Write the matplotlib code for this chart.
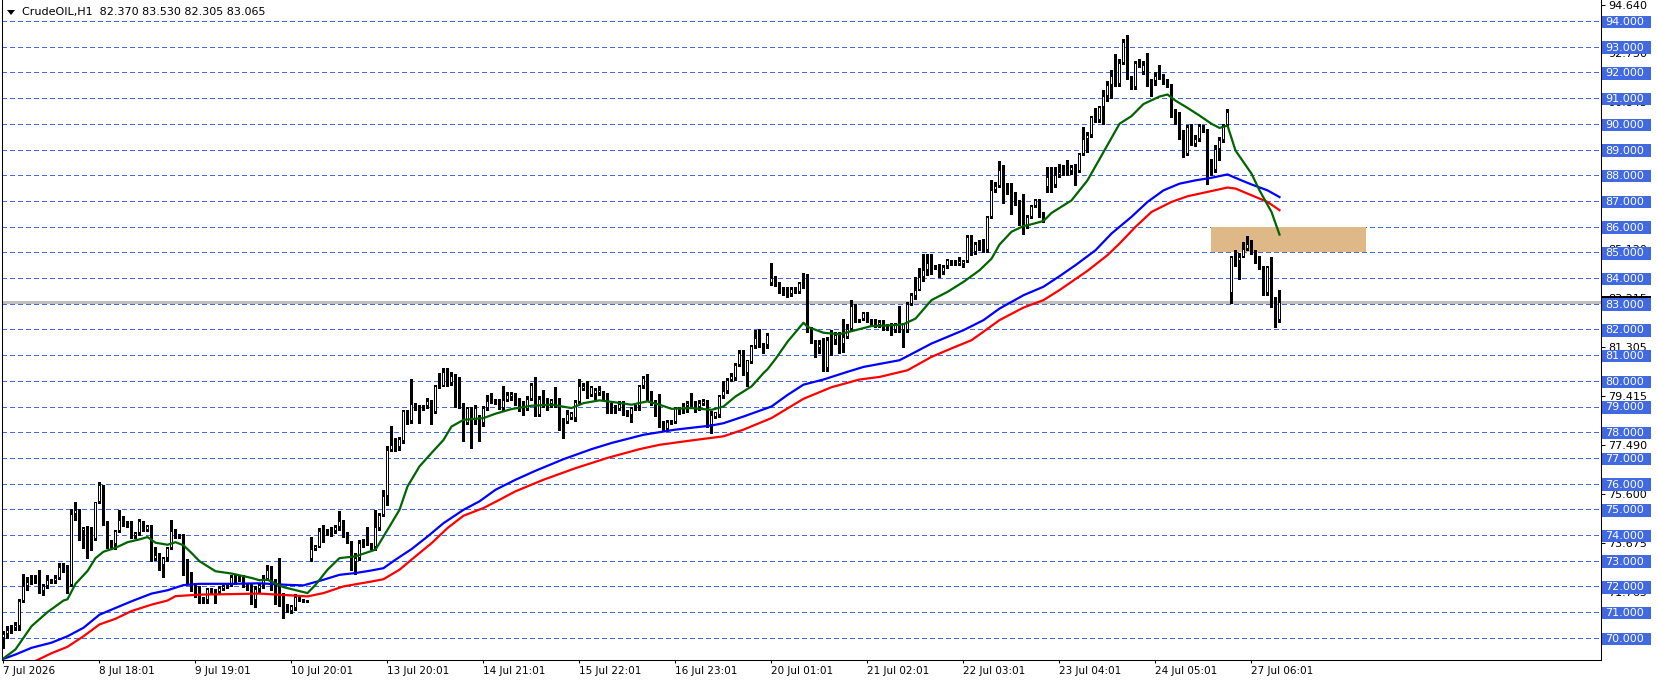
import numpy as np
import matplotlib
matplotlib.use('Agg')
import matplotlib.pyplot as plt
from matplotlib.patches import Rectangle, Polygon
from matplotlib.transforms import blended_transform_factory

plt.rcParams['font.family'] = ['DejaVu Sans']

# CrudeOIL H1 bars (bar index 0 = 7 Jul 2026)
opens = [
    70.0, 70.15, 70.3, 70.38, 70.45, 71.45, 72.0, 72.4, 72.43, 72.42,
    71.83, 72.03, 72.22, 72.2, 72.33, 72.78, 72.65, 72.07, 74.8, 74.96,
    74.14, 74.27, 73.95, 73.85, 75.28, 75.93, 74.47, 73.7, 73.66, 74.14,
    74.69, 74.5, 74.47, 73.95, 74.08, 74.53, 74.2, 74.34, 73.07, 73.24,
    72.82, 73.1, 73.5, 74.17, 73.99, 73.99, 72.59, 72.46, 72.03, 71.94,
    71.55, 71.49, 71.88, 71.81, 71.77, 71.88, 72.0, 72.08, 72.36, 72.37,
    72.37, 72.13, 72.07, 71.49, 71.88, 72.05, 72.3, 72.65, 72.0, 71.67,
    71.67, 71.22, 71.03, 71.16, 71.6, 71.45, 71.42, 73.06, 73.45, 73.55,
    74.2, 74.2, 74.1, 74.14, 74.31, 74.53, 74.04, 73.75, 72.93, 73.1,
    73.66, 73.72, 73.62, 73.53, 74.27, 74.79, 75.5, 77.32, 77.55, 77.42,
    77.64, 78.83, 78.45, 79.1, 79.0, 79.0, 79.0, 79.2, 78.77, 79.78,
    79.8, 80.36, 79.9, 80.2, 80.1, 79.07, 78.35, 78.94, 78.42, 78.64,
    78.35, 78.94, 79.2, 79.18, 79.25, 78.94, 79.26, 79.37, 79.43, 79.24,
    79.07, 78.9, 79.3, 79.84, 78.68, 79.26, 79.15, 79.1, 79.13, 79.26,
    78.42, 78.38, 78.55, 78.55, 79.17, 79.68, 79.72, 79.43, 79.5, 79.52,
    79.52, 79.5, 79.07, 78.87, 78.9, 79.07, 78.84, 78.65, 78.94, 79.0,
    79.78, 80.1, 79.5, 79.2, 78.81, 78.35, 78.12, 78.38, 78.38, 78.84,
    78.88, 79.03, 79.13, 79.13, 78.98, 79.09, 79.2, 78.29, 78.61, 78.68,
    79.39, 79.59, 80.04, 80.1, 80.62, 80.97, 80.3, 80.75, 81.34, 81.62,
    81.44, 81.4, 83.79, 83.99, 83.82, 83.59, 83.55, 83.37, 83.59, 83.46,
    83.82, 83.68, 81.99, 81.52, 81.26, 81.43, 80.48, 81.52, 81.58, 81.78,
    81.43, 81.71, 82.03, 82.9, 82.39, 82.39, 82.64, 82.36, 82.3, 82.16,
    82.26, 82.04, 82.13, 81.99, 82.2, 81.99, 81.97, 82.98, 83.29, 83.55,
    84.02, 84.31, 84.59, 84.44, 84.46, 84.24, 84.46, 84.66, 84.53, 84.53,
    84.53, 84.67, 85.6, 85.02, 85.41, 85.47, 85.08, 86.36, 87.42, 87.57,
    88.22, 87.35, 87.29, 87.03, 86.77, 86.79, 85.99, 86.38, 86.79, 87.02,
    86.5, 87.54, 87.93, 87.6, 88.0, 88.12, 88.32, 88.16, 88.32, 88.16,
    88.83, 89.42, 89.55, 90.28, 90.13, 90.67, 91.1, 91.52, 91.87, 91.55,
    92.35, 93.17, 91.81, 91.42, 92.43, 92.0, 92.3, 91.62, 91.65, 91.9,
    91.87, 91.64, 91.45, 90.52, 90.41, 89.55, 88.83, 89.87, 89.2, 89.39,
    89.9, 89.74, 88.51, 88.19, 89.03, 89.38, 89.97, 83.43, 84.85, 84.67,
    84.83, 85.14, 85.32, 84.96, 84.8, 84.42, 83.4, 84.42, 83.14, 82.37,
]
highs = [
    70.25, 70.45, 70.5, 70.6, 71.5, 72.5, 72.35, 72.45, 72.45, 72.65,
    72.1, 72.45, 72.3, 72.45, 72.9, 72.9, 72.85, 75.0, 75.3, 75.0,
    74.3, 74.35, 74.3, 75.3, 76.08, 75.95, 74.55, 73.8, 74.2, 74.98,
    74.73, 74.55, 74.53, 74.12, 74.62, 74.55, 74.4, 74.38, 73.55, 73.3,
    73.15, 73.55, 74.6, 74.22, 74.02, 74.02, 73.05, 72.55, 72.15, 72.0,
    71.6, 71.95, 71.95, 71.88, 72.0, 72.05, 72.1, 72.45, 72.5, 72.45,
    72.45, 72.15, 72.12, 72.0, 72.15, 72.45, 72.85, 72.8, 72.3, 73.1,
    71.75, 71.3, 71.28, 71.7, 71.67, 71.5, 71.45, 73.94, 73.6, 74.27,
    74.38, 74.25, 74.3, 74.4, 74.92, 74.6, 74.1, 73.78, 73.3, 73.82,
    73.85, 74.33, 73.7, 74.98, 74.86, 75.76, 77.45, 78.25, 77.77, 77.83,
    78.87, 78.87, 80.07, 79.14, 79.05, 79.07, 79.33, 79.26, 79.85, 80.29,
    80.5, 80.5, 80.36, 80.25, 80.15, 79.14, 79.0, 79.0, 79.07, 78.68,
    79.03, 79.45, 79.52, 79.3, 79.3, 79.78, 79.58, 79.58, 79.52, 79.33,
    79.2, 79.39, 79.9, 80.13, 79.39, 79.65, 79.33, 79.3, 79.74, 79.33,
    78.55, 78.87, 78.8, 79.26, 80.07, 79.9, 79.98, 79.78, 79.72, 79.78,
    79.6, 79.52, 79.13, 79.07, 79.2, 79.2, 78.88, 79.0, 79.07, 79.84,
    80.17, 80.27, 79.59, 79.26, 79.5, 78.42, 78.48, 78.46, 79.0, 78.99,
    79.13, 79.2, 79.52, 79.22, 79.24, 79.3, 79.26, 78.81, 78.8, 79.46,
    79.98, 80.1, 80.3, 80.69, 81.21, 81.21, 80.82, 81.4, 81.98, 82.0,
    81.46, 81.86, 84.57, 84.06, 83.86, 83.65, 83.65, 83.65, 83.65, 83.86,
    84.2, 84.15, 82.1, 81.59, 81.59, 81.65, 81.71, 81.97, 81.91, 81.91,
    82.4, 82.22, 83.14, 83.0, 82.42, 82.68, 82.68, 82.42, 82.39, 82.35,
    82.36, 82.2, 82.26, 82.26, 82.9, 82.26, 83.05, 83.4, 84.02, 84.37,
    84.95, 84.95, 84.95, 84.5, 84.56, 84.5, 84.75, 84.7, 84.7, 84.82,
    84.69, 85.69, 85.66, 85.41, 85.47, 85.5, 86.41, 87.83, 87.74, 88.56,
    88.39, 87.68, 87.68, 87.35, 87.03, 87.28, 86.44, 86.83, 87.08, 87.08,
    86.57, 88.3, 88.3, 88.3, 88.45, 88.38, 88.6, 88.4, 88.45, 88.86,
    89.87, 89.68, 90.32, 90.6, 90.71, 91.32, 91.68, 92.1, 92.7, 92.52,
    93.3, 93.47, 91.87, 92.45, 92.52, 92.45, 92.75, 91.75, 92.0, 92.3,
    91.94, 91.74, 91.55, 90.58, 90.45, 89.74, 89.94, 90.0, 89.55, 90.0,
    89.94, 89.81, 88.64, 89.16, 89.48, 90.0, 90.58, 84.85, 85.1, 84.97,
    85.4, 85.64, 85.47, 85.1, 84.85, 84.48, 84.48, 84.81, 83.27, 83.53,
]
lows = [
    69.6, 70.0, 70.2, 70.3, 70.3, 71.4, 71.85, 72.1, 72.15, 71.75,
    71.65, 71.95, 72.15, 72.15, 72.3, 72.55, 71.75, 72.0, 74.6, 73.8,
    73.5, 73.1, 73.4, 73.8, 75.25, 74.4, 73.5, 73.45, 73.45, 74.1,
    74.35, 74.3, 73.9, 73.9, 74.0, 74.15, 74.15, 73.0, 73.02, 72.65,
    72.37, 73.0, 73.45, 73.9, 73.9, 72.45, 72.15, 71.82, 71.6, 71.35,
    71.35, 71.35, 71.7, 71.35, 71.7, 71.85, 71.95, 72.0, 72.1, 72.2,
    71.98, 71.85, 71.3, 71.2, 71.8, 71.95, 72.25, 71.85, 71.3, 71.25,
    70.77, 71.0, 70.98, 71.1, 71.42, 71.4, 71.38, 72.97, 73.4, 73.52,
    73.73, 74.0, 73.95, 74.07, 74.2, 73.94, 73.7, 72.65, 72.5, 73.02,
    73.55, 73.6, 73.45, 73.4, 74.2, 74.73, 75.17, 77.26, 77.26, 77.32,
    77.57, 78.3, 78.36, 78.88, 78.35, 78.88, 78.94, 78.3, 78.74, 79.72,
    79.78, 79.78, 79.84, 79.0, 78.95, 77.65, 78.3, 77.4, 78.3, 77.65,
    78.25, 78.87, 79.12, 79.1, 78.9, 78.87, 79.2, 79.27, 79.07, 78.81,
    78.68, 78.87, 79.26, 78.62, 78.62, 79.0, 78.87, 79.0, 79.0, 78.1,
    77.77, 78.35, 78.5, 78.42, 79.13, 79.65, 79.33, 79.39, 79.3, 79.43,
    79.26, 78.75, 78.75, 78.75, 78.85, 78.68, 78.62, 78.4, 78.88, 78.88,
    79.72, 79.26, 79.07, 78.62, 78.2, 78.04, 78.04, 78.33, 78.35, 78.7,
    78.73, 78.8, 79.0, 78.8, 78.88, 79.07, 78.22, 77.97, 78.55, 78.61,
    79.33, 79.52, 79.98, 80.04, 80.56, 80.23, 79.8, 80.69, 81.27, 81.3,
    81.1, 81.27, 83.72, 83.68, 83.4, 83.33, 83.27, 83.3, 83.4, 83.4,
    83.62, 81.9, 81.46, 80.93, 81.07, 80.4, 80.4, 81.0, 81.45, 81.1,
    81.13, 81.65, 81.97, 82.3, 82.3, 82.36, 82.3, 82.17, 82.1, 82.1,
    81.97, 81.97, 81.77, 81.91, 81.91, 81.3, 81.91, 82.95, 83.2, 83.53,
    83.9, 84.1, 84.15, 84.35, 84.04, 84.17, 84.37, 84.5, 84.5, 84.5,
    84.43, 84.63, 84.89, 84.95, 85.08, 85.02, 85.02, 86.32, 87.35, 87.55,
    86.9, 87.25, 86.5, 86.85, 86.05, 85.73, 85.95, 86.33, 86.76, 86.38,
    86.18, 87.35, 87.35, 87.54, 87.93, 88.0, 88.0, 88.06, 87.6, 88.12,
    88.77, 88.9, 89.48, 90.07, 90.07, 90.0, 90.9, 91.0, 91.49, 91.49,
    92.33, 91.75, 91.36, 91.36, 92.2, 91.94, 91.49, 91.1, 91.52, 91.75,
    91.55, 91.42, 90.26, 90.0, 89.42, 88.7, 88.77, 89.16, 89.12, 89.35,
    89.68, 87.67, 87.99, 88.12, 88.58, 89.29, 89.9, 83.04, 84.45, 83.98,
    84.8, 85.1, 84.93, 84.6, 84.35, 83.34, 83.34, 82.88, 82.1, 82.305,
]
closes = [
    70.15, 70.3, 70.38, 70.48, 71.45, 72.0, 72.17, 72.43, 72.42, 71.8,
    72.0, 72.26, 72.26, 72.33, 72.76, 72.6, 72.05, 74.8, 74.96, 74.14,
    74.26, 73.92, 73.85, 75.28, 75.93, 74.47, 73.65, 73.5, 74.14, 74.6,
    74.5, 74.36, 73.95, 74.08, 74.53, 74.2, 74.36, 73.04, 73.24, 72.82,
    73.1, 73.5, 74.17, 73.99, 73.93, 72.5, 72.4, 72.14, 71.75, 71.42,
    71.42, 71.88, 71.77, 71.68, 71.94, 72.0, 72.08, 72.37, 72.38, 72.38,
    72.07, 72.0, 71.68, 71.88, 72.05, 72.3, 72.65, 72.06, 71.54, 71.55,
    71.03, 71.03, 71.22, 71.6, 71.48, 71.47, 71.42, 73.45, 73.58, 74.14,
    74.1, 74.05, 74.2, 74.33, 74.53, 74.0, 73.75, 73.1, 73.1, 73.69,
    73.72, 73.6, 73.5, 74.3, 74.79, 75.5, 77.32, 77.51, 77.42, 77.73,
    78.83, 78.42, 79.1, 78.94, 78.94, 79.0, 79.2, 78.77, 79.78, 79.87,
    80.36, 79.9, 80.2, 79.05, 79.0, 78.35, 78.94, 78.42, 78.94, 78.35,
    78.94, 79.2, 79.2, 79.25, 78.94, 79.26, 79.45, 79.5, 79.2, 79.0,
    78.9, 79.3, 79.84, 78.72, 79.29, 79.1, 79.02, 79.24, 79.2, 78.33,
    78.33, 78.72, 78.74, 79.17, 79.81, 79.78, 79.39, 79.74, 79.65, 79.65,
    79.39, 79.07, 78.9, 78.96, 79.1, 78.8, 78.65, 78.94, 79.0, 79.78,
    80.1, 79.46, 79.2, 78.81, 78.25, 78.1, 78.38, 78.4, 78.94, 78.9,
    79.03, 79.13, 79.17, 78.94, 79.15, 79.2, 78.29, 78.68, 78.77, 79.39,
    79.59, 80.04, 80.17, 80.62, 81.08, 80.3, 80.79, 81.34, 81.66, 81.34,
    81.36, 81.8, 83.99, 83.82, 83.5, 83.46, 83.33, 83.59, 83.46, 83.82,
    83.68, 81.99, 81.52, 81.26, 81.43, 80.48, 81.58, 81.6, 81.78, 81.39,
    81.71, 82.03, 82.9, 82.36, 82.33, 82.64, 82.36, 82.2, 82.16, 82.3,
    82.04, 82.13, 81.99, 82.16, 81.99, 82.22, 82.98, 83.33, 83.55, 84.02,
    84.31, 84.59, 84.37, 84.39, 84.24, 84.44, 84.69, 84.53, 84.62, 84.66,
    84.66, 85.6, 85.02, 85.32, 85.15, 85.08, 86.36, 87.42, 87.57, 88.22,
    87.29, 87.29, 87.0, 86.9, 86.84, 85.99, 86.38, 86.79, 87.02, 86.44,
    86.22, 87.93, 87.6, 88.0, 88.12, 88.22, 88.12, 88.32, 88.12, 88.83,
    89.42, 89.55, 90.28, 90.13, 90.67, 91.1, 91.52, 91.87, 91.55, 92.35,
    93.17, 91.81, 91.42, 92.35, 92.33, 92.3, 91.55, 91.7, 91.87, 91.83,
    91.61, 91.49, 90.39, 90.39, 89.55, 88.83, 89.87, 89.2, 89.39, 89.9,
    89.74, 88.12, 88.19, 89.03, 89.38, 89.97, 90.45, 84.82, 84.64, 84.82,
    85.14, 85.32, 84.96, 84.79, 84.42, 83.38, 84.42, 83.08, 82.36, 83.065,
]

# moving averages: (bar index, price)
green_ma = [
    (0, 69.2), (3, 69.55), (7, 70.45), (11, 71.0), (15, 71.45), (16, 71.5), (18, 72.1),
    (21, 72.6), (23, 73.1), (25, 73.35), (28, 73.5), (31, 73.72), (34, 73.83), (36, 73.92),
    (38, 73.7), (41, 73.62), (43, 73.72), (45, 73.6), (47, 73.3), (49, 72.98), (53, 72.59),
    (57, 72.5), (62, 72.33), (64, 72.24), (66, 72.26), (70, 71.97), (76, 71.74), (78, 72.06),
    (81, 72.65), (84, 73.1), (88, 73.17), (93, 73.43), (96, 74.2), (99, 74.98), (101, 75.89),
    (104, 76.67), (107, 77.19), (110, 77.7), (112, 78.22), (115, 78.48), (120, 78.55),
    (123, 78.72), (127, 78.9), (132, 79.03), (137, 79.07), (142, 78.94), (145, 79.13),
    (149, 79.24), (153, 79.16), (157, 79.07), (161, 79.2), (164, 79.07), (167, 78.91),
    (172, 78.94), (177, 78.87), (180, 79.0), (183, 79.39), (187, 79.78), (190, 80.3),
    (191, 80.45), (193, 80.85), (196, 81.52), (200, 82.26), (201, 82.1), (205, 81.87),
    (209, 81.81), (213, 81.97), (217, 82.13), (222, 82.16), (225, 82.2), (228, 82.42),
    (232, 83.14), (236, 83.46), (240, 83.85), (244, 84.3), (247, 84.75), (249, 85.3),
    (252, 85.8), (255, 86.02), (257, 86.09), (260, 86.22), (262, 86.53), (267, 87.02),
    (271, 87.8), (275, 88.9), (279, 90.0), (282, 90.3), (285, 90.77), (289, 91.06),
    (291, 91.14), (293, 90.9), (296, 90.62), (299, 90.32), (302, 90.0), (304, 89.84),
    (306, 89.93), (308, 88.96), (312, 88.06), (314, 87.41), (317, 86.57), (319, 85.69),
]
blue_ma = [
    (0, 69.18), (3, 69.35), (7, 69.61), (12, 69.81), (16, 70.06), (20, 70.39), (24, 70.9),
    (28, 71.16), (32, 71.42), (37, 71.72), (41, 71.85), (45, 72.05), (49, 72.1), (57, 72.1),
    (64, 72.12), (71, 72.06), (75, 72.04), (80, 72.26), (84, 72.45), (88, 72.52), (92, 72.62),
    (95, 72.71), (98, 73.04), (102, 73.45), (106, 73.94), (110, 74.46), (115, 74.98),
    (119, 75.31), (123, 75.76), (128, 76.15), (133, 76.5), (140, 76.95), (147, 77.34),
    (152, 77.58), (160, 77.9), (168, 78.1), (177, 78.26), (180, 78.35), (185, 78.61),
    (192, 79.0), (196, 79.45), (200, 79.85), (205, 80.05), (211, 80.35), (215, 80.54),
    (224, 80.8), (226, 80.96), (232, 81.45), (240, 81.97), (245, 82.36), (249, 82.81),
    (255, 83.33), (260, 83.66), (264, 84.07), (268, 84.5), (273, 85.08), (277, 85.73),
    (282, 86.38), (286, 86.96), (290, 87.41), (294, 87.67), (298, 87.8), (302, 87.9),
    (306, 88.03), (309, 87.83), (312, 87.64), (316, 87.41), (319, 87.15),
]
red_ma = [
    (0, 68.55), (4, 68.8), (8, 69.1), (12, 69.4), (16, 69.65), (20, 70.06), (24, 70.52),
    (28, 70.74), (32, 71.04), (37, 71.29), (41, 71.45), (43, 71.62), (49, 71.68), (57, 71.7),
    (64, 71.72), (73, 71.64), (76, 71.61), (80, 71.74), (85, 72.0), (92, 72.19), (95, 72.28),
    (99, 72.65), (103, 73.17), (107, 73.68), (111, 74.27), (115, 74.75), (120, 75.05),
    (124, 75.37), (128, 75.7), (135, 76.15), (143, 76.6), (151, 77.0), (159, 77.34),
    (164, 77.51), (172, 77.68), (180, 77.84), (185, 78.1), (192, 78.55), (200, 79.3),
    (207, 79.75), (214, 80.05), (219, 80.15), (226, 80.41), (232, 80.93), (237, 81.26),
    (242, 81.58), (245, 81.91), (249, 82.36), (255, 82.85), (260, 83.14), (264, 83.53),
    (271, 84.28), (276, 84.89), (279, 85.34), (283, 85.99), (287, 86.57), (292, 86.96),
    (296, 87.18), (301, 87.35), (306, 87.52), (308, 87.48), (312, 87.22), (316, 86.96),
    (319, 86.64),
]

date_ticks = [0, 24, 48, 72, 96, 120, 144, 168, 192, 216, 240, 264, 288, 312]
date_labels = ['7 Jul 2026', '8 Jul 18:01', '9 Jul 19:01', '10 Jul 20:01', '13 Jul 20:01',
               '14 Jul 21:01', '15 Jul 22:01', '16 Jul 23:01', '20 Jul 01:01', '21 Jul 02:01',
               '22 Jul 03:01', '23 Jul 04:01', '24 Jul 05:01', '27 Jul 06:01']

scale_prices = [94.64, 92.75, 90.845, 88.935, 87.03, 85.12, 83.215, 81.305, 79.415,
                77.49, 75.6, 73.675, 71.765]
levels = list(range(70, 95))
last_price = 83.065
zone = (85.0, 86.0)
title = 'CrudeOIL,H1  82.370 83.530 82.305 83.065'

W, H = 1658, 684
fig = plt.figure(figsize=(W / 100, H / 100), dpi=100)
ax = fig.add_axes([2 / W, 24 / H, 1599 / W, 660 / H])
ax.set_facecolor('white')

o = np.array(opens)
h = np.array(highs)
l = np.array(lows)
c = np.array(closes)
x = np.arange(len(c))
up = c >= o
pix = 1 / 25.7  # one pixel in price units

# horizontal price levels
for p in levels:
    ax.axhline(p, color='#4169E1', lw=0.75, ls=(0, (4, 3)), zorder=0.5, antialiased=False)
ax.axhline(last_price, color='#C0C0C0', lw=0.75, zorder=0.8, antialiased=False)

ax.add_patch(Rectangle((301.8, zone[0]), 38.8, zone[1] - zone[0],
                       facecolor='#DEB887', edgecolor='none', zorder=1))

# candles: wick, black body, white inside for rising bars
body_lo = np.minimum(o, c)
body = np.abs(c - o)
ax.vlines(x, l, h, color='black', lw=0.75, zorder=2, antialiased=False)
ax.bar(x, np.maximum(body, pix), bottom=body_lo, width=0.75, color='black',
       linewidth=0, zorder=3, antialiased=False)
inner = up & (body > 2 * pix)
ax.bar(x[inner], body[inner] - 2 * pix, bottom=body_lo[inner] + pix, width=0.25,
       color='white', linewidth=0, zorder=3.5, antialiased=False)

for ma, col in [(red_ma, '#FF0000'), (blue_ma, '#0000FF'), (green_ma, '#006400')]:
    mx, my = zip(*ma)
    ax.plot(mx, my, color=col, lw=1.6, zorder=4, solid_joinstyle='round')

ax.set_xlim(-0.375, 399.375)
ax.set_ylim(94 - 639 / 25.7, 94 + 21 / 25.7)

for s in ['left', 'right', 'bottom']:
    ax.spines[s].set_linewidth(0.75)
    ax.spines[s].set_color('black')
ax.spines['top'].set_visible(False)

ax.set_xticks(date_ticks)
ax.set_xticklabels(date_labels)
ax.tick_params(axis='x', direction='out', length=2.5, width=0.75, pad=1.5, labelsize=7.5)
for t in ax.get_xticklabels():
    t.set_ha('left')

ax.yaxis.tick_right()
ax.set_yticks(scale_prices)
ax.set_yticklabels([f'{p:.3f}' for p in scale_prices])
ax.tick_params(axis='y', direction='out', length=3, width=0.75, pad=2, labelsize=8)

# price boxes on the right scale
tr = blended_transform_factory(ax.transAxes, ax.transData)
bx = 1.0 / 1599
bh = 12.5 * pix
ax.add_patch(Rectangle((1 + bx, last_price - bh / 2), 49 / 1599, bh, transform=tr,
                       facecolor='black', edgecolor='none', clip_on=False, zorder=5))
for p in levels:
    ax.add_patch(Rectangle((1 + bx, p - pix - bh / 2), 49 / 1599, bh, transform=tr,
                           facecolor='#4169E1', edgecolor='none', clip_on=False, zorder=6))
    ax.text(1 + 4 / 1599, p - pix, f'{p:.3f}', transform=tr, color='white', fontsize=8,
            va='center', ha='left', clip_on=False, zorder=7)

fig.text(22 / W, 1 - 12.5 / H, title, fontsize=8, va='center', ha='left')
fig.add_artist(Polygon([[7 / W, 1 - 10 / H], [15 / W, 1 - 10 / H], [11 / W, 1 - 15 / H]],
                       closed=True, transform=fig.transFigure, facecolor='black', edgecolor='none'))

fig.savefig('out.png', dpi=100)
